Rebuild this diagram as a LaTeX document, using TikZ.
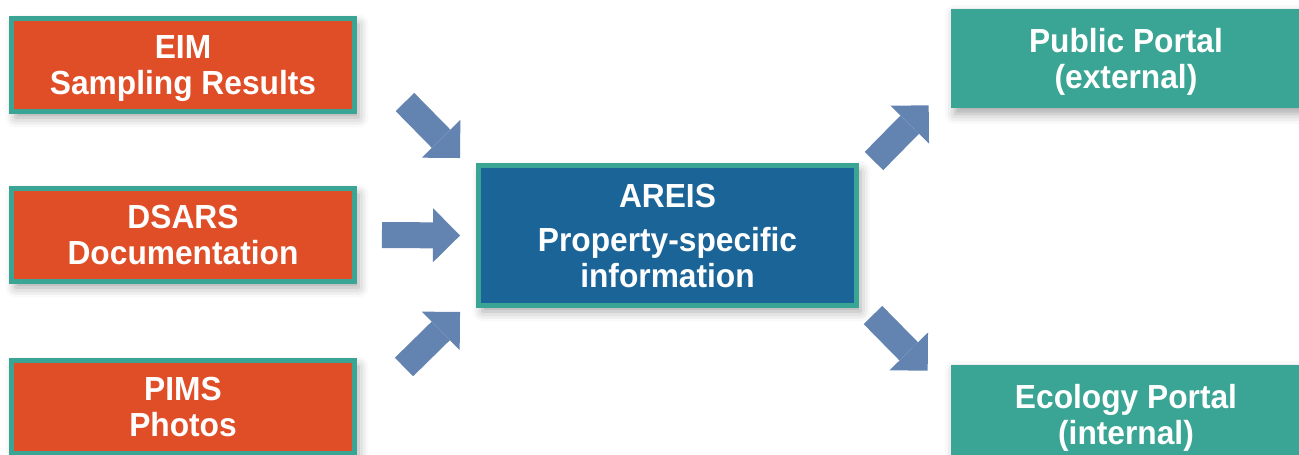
\documentclass[tikz,border=0pt]{standalone}
\usepackage{fontspec}
\setmainfont{Liberation Sans}[FakeStretch=0.95]
\usepackage{tikz}
\usetikzlibrary{arrows.meta, positioning, shadows.blur}
\definecolor{arOrange}{HTML}{E04E27}
\definecolor{arTeal}{HTML}{3AA594}
\definecolor{arBlue}{HTML}{1B6497}
\definecolor{arArrow}{HTML}{6383B0}
\tikzset{
  arshadow/.style={blur shadow={shadow xshift=0.08cm, shadow yshift=-0.12cm,
                   shadow blur radius=0.2cm, shadow opacity=35}},
  arbase/.style={align=center, text=white, inner sep=0pt, text depth=0pt,
                 font=\fontsize{19}{20.2}\selectfont\bfseries, arshadow},
  srcbox/.style={arbase, draw=arTeal, line width=0.1cm, fill=arOrange,
                 minimum width=6.86cm, minimum height=1.86cm},
  hubbox/.style={arbase, draw=arTeal, line width=0.1cm, fill=arBlue,
                 minimum width=7.56cm, minimum height=2.8cm},
  portalbox/.style={arbase, fill=arTeal, minimum width=7cm, minimum height=1.98cm},
  flowarr/.style={draw=arArrow, line width=0.52cm,
                  -{Triangle[length=0.54cm, width=1.08cm, line width=0pt]}},
}
\begin{document}
\begin{tikzpicture}[x=0.02cm, y=-0.02cm]
\useasboundingbox (0,0) rectangle (1299,454);
\node[srcbox] (eim) at (183,65) {EIM\\Sampling Results};
\node[srcbox] (dsars) at (183,235) {DSARS\\Documentation};
\node[srcbox] (pims) at (183,407) {PIMS\\Photos};
\node[hubbox] (areis) at (667.5,235.5) {AREIS\\[5pt]Property-specific\\information};
\node[portalbox] (pub) at (1126,58.5) {Public Portal\\(external)};
\node[portalbox] (eco) at (1126,414.5) {Ecology Portal\\(internal)};

\draw[flowarr] ([shift={(48,37)}]eim.east) -- ([shift={(-16,-5)}]areis.north west);
\draw[flowarr] ([shift={(25,0)}]dsars.east) -- ([shift={(-16,0)}]areis.west);
\draw[flowarr] ([shift={(47,9)}]pims.north east) -- ([shift={(-16,4)}]areis.south west);
\draw[flowarr] ([shift={(15,-2)}]areis.north east) -- ([shift={(-22,-3)}]pub.south west);
\draw[flowarr] ([shift={(14,7)}]areis.south east) -- ([shift={(-23,6)}]eco.north west);
\end{tikzpicture}
\end{document}
